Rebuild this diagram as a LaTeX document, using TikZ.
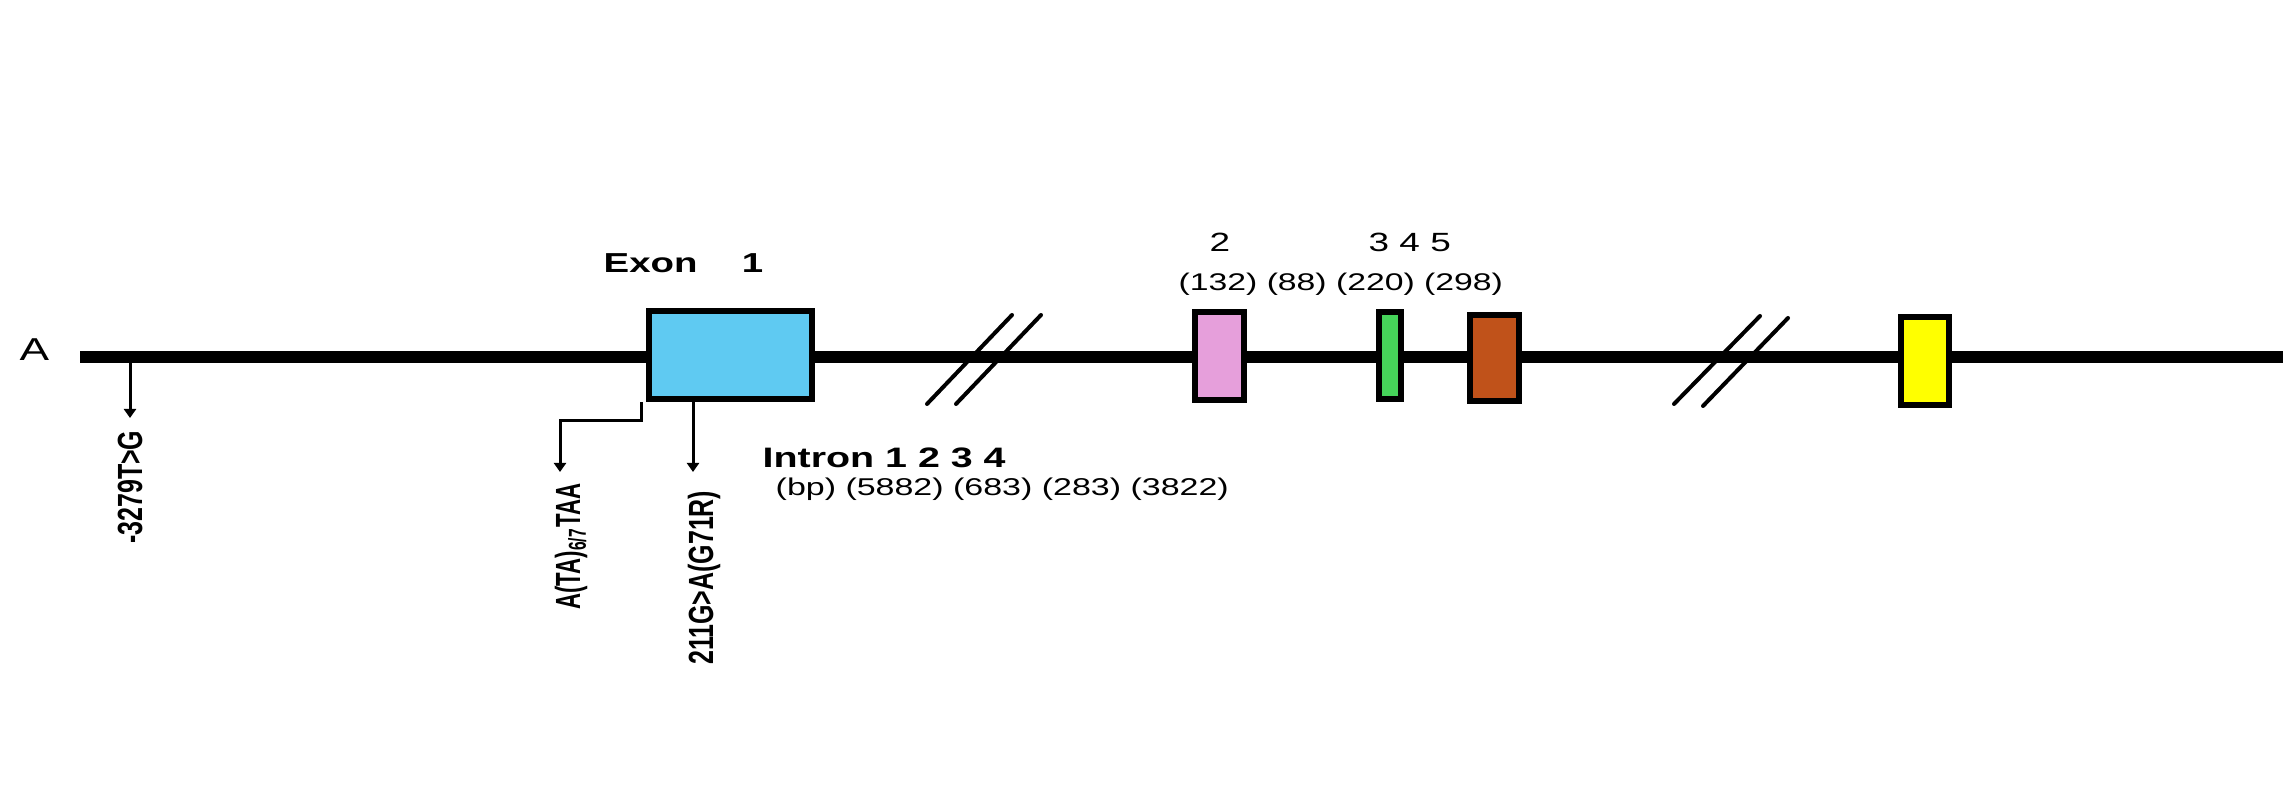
\documentclass[tikz,border=0pt]{standalone}
\usepackage{fontspec}
\setmainfont{Liberation Sans}
\usepackage{graphicx}
\usetikzlibrary{arrows.meta, positioning}
\definecolor{exblue}{RGB}{95,202,242}
\definecolor{expink}{RGB}{230,159,219}
\definecolor{exgreen}{RGB}{70,212,90}
\definecolor{exorange}{RGB}{192,82,26}
\definecolor{exyellow}{RGB}{255,255,0}
\newcommand{\widetxt}[1]{\scalebox{1.4}[1]{#1}}
\newcommand{\sidetxt}[1]{\scalebox{1}[1.4]{#1}}

\begin{document}
\begin{tikzpicture}[x=0.01cm, y=-0.01cm,
    exonbox/.style={rectangle, draw=black, line width=0.065cm, inner sep=0pt},
    dna/.style={line width=0.12cm},
    mutarrow/.style={-{Triangle[width=0.12cm,length=0.09cm]}, line width=0.03cm},
    brk/.style={line width=0.04cm, line cap=round},
    mutlabel/.style={rotate=90, inner sep=0pt, anchor=base east,
                     font=\fontsize{7.1pt}{8pt}\selectfont\bfseries},
    lbl/.style={inner sep=0pt, anchor=base west}
]
\useasboundingbox (0,0) rectangle (2284,810);
% gene line
\coordinate (L) at (80,357);
\coordinate (R) at (2283,357);
\draw[dna] (L) -- (R);
\node[lbl, font=\fontsize{9pt}{10pt}\selectfont] (gA) at (19,361) {\widetxt{A}};
% breaks in the line
\draw[brk] (927,404) -- (1012,315) (956,404) -- (1041,315);
\draw[brk] (1674,404) -- (1760,316) (1703,406) -- (1788,318);
% exons
\node[exonbox, fill=exblue, minimum width=1.63cm, minimum height=0.88cm] (ex1) at (730.5,355) {};
\node[exonbox, fill=expink, minimum width=0.49cm, minimum height=0.88cm] (ex2) at (1219.5,356) {};
\node[exonbox, fill=exgreen, minimum width=0.22cm, minimum height=0.87cm] (ex3) at (1390,355.5) {};
\node[exonbox, fill=exorange, minimum width=0.49cm, minimum height=0.86cm] (ex4) at (1494.5,358) {};
\node[exonbox, fill=exyellow, minimum width=0.48cm, minimum height=0.88cm] (ex5) at (1925,361) {};
% labels
\node[lbl, font=\fontsize{7.8pt}{9pt}\selectfont\bfseries] (exlab) at (603,273) {\widetxt{Exon\hspace{9pt}1}};
\node[lbl, anchor=base, font=\fontsize{7.5pt}{8pt}\selectfont] (num2) at (1220,252) {\widetxt{2}};
\node[lbl, font=\fontsize{7.5pt}{8pt}\selectfont] (num345) at (1368,252) {\widetxt{3 4 5}};
\node[lbl, font=\fontsize{6.85pt}{8pt}\selectfont] (exsize) at (1178,291) {\widetxt{(132) (88) (220) (298)}};
\node[lbl, font=\fontsize{8pt}{9pt}\selectfont\bfseries] (inlab) at (762,468) {\widetxt{Intron 1 2 3 4}};
\node[lbl, font=\fontsize{6.9pt}{8pt}\selectfont] (insize) at (775,496) {\widetxt{(bp) (5882) (683) (283) (3822)}};
% variants
\node[mutlabel] (mut1) at (142,430) {\sidetxt{-3279T>G}};
\node[mutlabel] (mut2) at (580,483) {\scalebox{0.89}[1.4]{A(TA)\textsubscript{6/7}TAA}};
\node[mutlabel] (mut3) at (713,490) {\sidetxt{211G>A(G71R)}};
\coordinate (s1) at (130,363);
\coordinate (t1) at (130,418);
\coordinate (t2) at (560,472);
\coordinate (s3) at (693,402);
\coordinate (t3) at (693,472);
\draw[mutarrow] (s1) -- (t1);
\draw[mutarrow] ([xshift=-0.04cm]ex1.south west) -- ++(0,18) -| (t2);
\draw[mutarrow] (s3) -- (t3);
\end{tikzpicture}
\end{document}
